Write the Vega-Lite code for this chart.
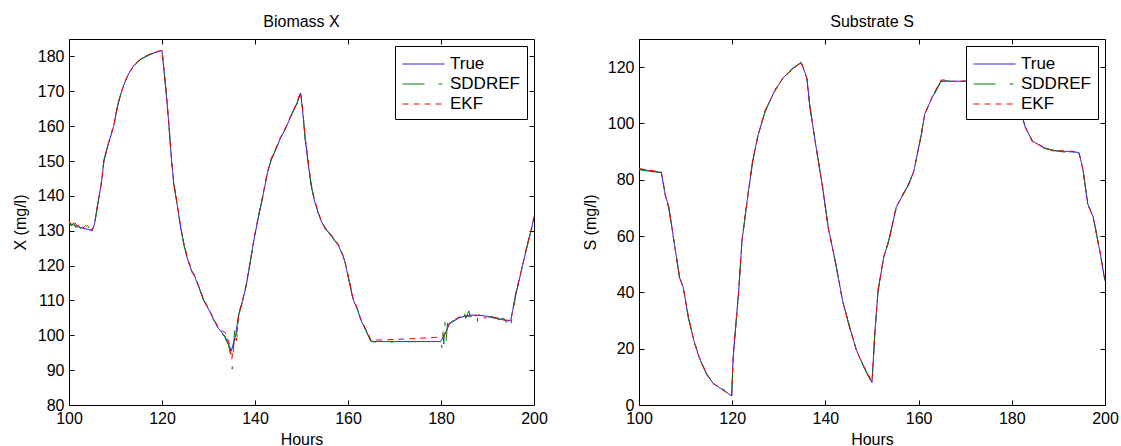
{
  "$schema": "https://vega.github.io/schema/vega-lite/v6.json",
  "padding": {"left": 12, "top": 13, "right": 5, "bottom": 0},
  "config": {
    "font": "Liberation Sans",
    "view": {"stroke": null},
    "axis": {"grid": false, "domainColor": "#000", "domainWidth": 1, "tickColor": "#000", "tickSize": -5, "labelFontSize": 16, "labelColor": "#000", "titleFontSize": 16, "titleFontWeight": "normal", "titleColor": "#000", "labelFont": "Liberation Sans", "titleFont": "Liberation Sans", "labelPadding": 10, "labelFlush": false, "labelOverlap": false},
    "title": {"fontSize": 16, "fontWeight": "normal", "font": "Liberation Sans", "color": "#000", "offset": 9, "frame": "group", "anchor": "middle"},
    "legend": {"orient": "top-right", "offset": 7, "strokeColor": "#000", "fillColor": "#fff", "padding": 7, "symbolType": "M-1,0H3", "symbolSize": 441, "symbolStrokeWidth": 1, "symbolFillColor": "transparent", "labelOffset": 26, "rowPadding": 1, "labelFontSize": 17, "labelColor": "#000", "labelFont": "Liberation Sans", "title": null, "cornerRadius": 0},
    "concat": {"spacing": 34},
    "line": {"strokeWidth": 1}
  },
  "resolve": {"scale": {"color": "independent", "strokeDash": "independent"}, "legend": {"color": "independent", "strokeDash": "independent"}},
  "datasets": {
    "biomass": [
      {"t":100,"v":132.2,"s":"True"},{"t":101,"v":131.6,"s":"True"},{"t":102,"v":131.1,"s":"True"},{"t":103,"v":130.7,"s":"True"},{"t":104,"v":130.4,"s":"True"},{"t":105,"v":130.0,"s":"True"},{"t":105.5,"v":132,"s":"True"},{"t":106,"v":136.2,"s":"True"},{"t":107,"v":144,"s":"True"},{"t":107.5,"v":150,"s":"True"},{"t":108.5,"v":155,"s":"True"},{"t":109.6,"v":160,"s":"True"},{"t":110.5,"v":166,"s":"True"},{"t":111.3,"v":170,"s":"True"},{"t":112,"v":172.5,"s":"True"},{"t":112.8,"v":175,"s":"True"},{"t":114,"v":177.5,"s":"True"},{"t":115.5,"v":179.3,"s":"True"},{"t":117.4,"v":180.6,"s":"True"},{"t":119,"v":181.3,"s":"True"},{"t":120,"v":181.7,"s":"True"},{"t":120.9,"v":169.7,"s":"True"},{"t":121.5,"v":160,"s":"True"},{"t":122,"v":151,"s":"True"},{"t":122.5,"v":143.8,"s":"True"},{"t":123.3,"v":137.1,"s":"True"},{"t":124,"v":131,"s":"True"},{"t":124.7,"v":126,"s":"True"},{"t":125.5,"v":121.8,"s":"True"},{"t":126.5,"v":118,"s":"True"},{"t":127,"v":117,"s":"True"},{"t":128,"v":113.5,"s":"True"},{"t":128.9,"v":110.3,"s":"True"},{"t":130,"v":107.5,"s":"True"},{"t":131,"v":104.8,"s":"True"},{"t":132,"v":102.2,"s":"True"},{"t":133.5,"v":99.8,"s":"True"},{"t":134.3,"v":97.5,"s":"True"},{"t":134.9,"v":95.5,"s":"True"},{"t":135.8,"v":99.8,"s":"True"},{"t":136.5,"v":106,"s":"True"},{"t":137.2,"v":109,"s":"True"},{"t":138.1,"v":114.2,"s":"True"},{"t":139,"v":121,"s":"True"},{"t":139.8,"v":127.6,"s":"True"},{"t":140.8,"v":134.3,"s":"True"},{"t":141.7,"v":140,"s":"True"},{"t":142.7,"v":146.7,"s":"True"},{"t":143.5,"v":150.5,"s":"True"},{"t":144.2,"v":152.4,"s":"True"},{"t":145.3,"v":156,"s":"True"},{"t":146.5,"v":159.1,"s":"True"},{"t":147.3,"v":161.5,"s":"True"},{"t":148.1,"v":163.9,"s":"True"},{"t":149,"v":166.5,"s":"True"},{"t":149.8,"v":169.5,"s":"True"},{"t":150.2,"v":165,"s":"True"},{"t":150.8,"v":156.3,"s":"True"},{"t":151.5,"v":148.6,"s":"True"},{"t":152.1,"v":143,"s":"True"},{"t":152.7,"v":139,"s":"True"},{"t":153.5,"v":135.5,"s":"True"},{"t":154.2,"v":132.8,"s":"True"},{"t":155,"v":130.8,"s":"True"},{"t":155.8,"v":129.5,"s":"True"},{"t":157,"v":127.5,"s":"True"},{"t":158,"v":125.6,"s":"True"},{"t":159.2,"v":121.8,"s":"True"},{"t":160,"v":117,"s":"True"},{"t":161.1,"v":110.3,"s":"True"},{"t":162,"v":107.5,"s":"True"},{"t":162.7,"v":104.6,"s":"True"},{"t":163.8,"v":101.5,"s":"True"},{"t":164.9,"v":98.4,"s":"True"},{"t":165.5,"v":98.2,"s":"True"},{"t":170,"v":98.2,"s":"True"},{"t":175,"v":98.2,"s":"True"},{"t":179.9,"v":98.2,"s":"True"},{"t":180.8,"v":100.2,"s":"True"},{"t":181.8,"v":103.2,"s":"True"},{"t":183,"v":104.3,"s":"True"},{"t":184.1,"v":105.1,"s":"True"},{"t":185.3,"v":105.5,"s":"True"},{"t":186.4,"v":105.8,"s":"True"},{"t":188.7,"v":105.7,"s":"True"},{"t":190,"v":105.4,"s":"True"},{"t":191,"v":105.1,"s":"True"},{"t":192.5,"v":104.7,"s":"True"},{"t":194.5,"v":104.1,"s":"True"},{"t":195,"v":104.2,"s":"True"},{"t":196,"v":111.3,"s":"True"},{"t":197.2,"v":118,"s":"True"},{"t":198.7,"v":126.6,"s":"True"},{"t":199.3,"v":129.5,"s":"True"},{"t":200,"v":133.8,"s":"True"},

      {"t":100,"v":132.6,"s":"SDDREF"},{"t":100.5,"v":131.4,"s":"SDDREF"},{"t":101,"v":132.3,"s":"SDDREF"},{"t":101.5,"v":130.9,"s":"SDDREF"},{"t":102,"v":131.6,"s":"SDDREF"},{"t":102.5,"v":130.6,"s":"SDDREF"},{"t":103,"v":131.8,"s":"SDDREF"},{"t":103.5,"v":130.3,"s":"SDDREF"},{"t":104,"v":131.5,"s":"SDDREF"},{"t":104.5,"v":130.4,"s":"SDDREF"},{"t":105,"v":130.1,"s":"SDDREF"},{"t":105.5,"v":132,"s":"SDDREF"},{"t":106,"v":136,"s":"SDDREF"},{"t":107,"v":144.2,"s":"SDDREF"},{"t":107.5,"v":150.3,"s":"SDDREF"},{"t":108.5,"v":155.2,"s":"SDDREF"},{"t":109.6,"v":160.3,"s":"SDDREF"},{"t":110.5,"v":166.2,"s":"SDDREF"},{"t":111.3,"v":170.1,"s":"SDDREF"},{"t":112,"v":172.6,"s":"SDDREF"},{"t":112.8,"v":175.1,"s":"SDDREF"},{"t":114,"v":177.4,"s":"SDDREF"},{"t":115.5,"v":179.2,"s":"SDDREF"},{"t":117.4,"v":180.5,"s":"SDDREF"},{"t":119,"v":181.2,"s":"SDDREF"},{"t":120,"v":181.6,"s":"SDDREF"},{"t":120.9,"v":169.5,"s":"SDDREF"},{"t":121.5,"v":159.8,"s":"SDDREF"},{"t":122,"v":150.8,"s":"SDDREF"},{"t":122.5,"v":143.6,"s":"SDDREF"},{"t":123.3,"v":137.3,"s":"SDDREF"},{"t":124,"v":131.2,"s":"SDDREF"},{"t":124.7,"v":126.2,"s":"SDDREF"},{"t":125.5,"v":121.6,"s":"SDDREF"},{"t":126.5,"v":118.2,"s":"SDDREF"},{"t":127,"v":116.8,"s":"SDDREF"},{"t":128,"v":113.7,"s":"SDDREF"},{"t":128.9,"v":110.1,"s":"SDDREF"},{"t":130,"v":107.6,"s":"SDDREF"},{"t":131,"v":104.6,"s":"SDDREF"},{"t":132,"v":102.4,"s":"SDDREF"},{"t":133.5,"v":99.5,"s":"SDDREF"},{"t":134.3,"v":97.2,"s":"SDDREF"},{"t":134.8,"v":94,"s":"SDDREF"},{"t":135.1,"v":90.3,"s":"SDDREF"},{"t":135.4,"v":97,"s":"SDDREF"},{"t":135.7,"v":103,"s":"SDDREF"},{"t":135.9,"v":101.5,"s":"SDDREF"},{"t":136.2,"v":99.5,"s":"SDDREF"},{"t":136.5,"v":105.8,"s":"SDDREF"},{"t":137.2,"v":109.3,"s":"SDDREF"},{"t":138.1,"v":114,"s":"SDDREF"},{"t":139,"v":121.3,"s":"SDDREF"},{"t":139.8,"v":127.4,"s":"SDDREF"},{"t":140.8,"v":134.5,"s":"SDDREF"},{"t":141.7,"v":139.8,"s":"SDDREF"},{"t":142.7,"v":146.9,"s":"SDDREF"},{"t":143.5,"v":150.3,"s":"SDDREF"},{"t":144.2,"v":152.6,"s":"SDDREF"},{"t":145.3,"v":155.8,"s":"SDDREF"},{"t":146.5,"v":159.3,"s":"SDDREF"},{"t":147.3,"v":161.3,"s":"SDDREF"},{"t":148.1,"v":164.1,"s":"SDDREF"},{"t":149,"v":166.3,"s":"SDDREF"},{"t":149.8,"v":169.6,"s":"SDDREF"},{"t":150.2,"v":165.3,"s":"SDDREF"},{"t":150.8,"v":156.1,"s":"SDDREF"},{"t":151.5,"v":148.8,"s":"SDDREF"},{"t":152.1,"v":142.8,"s":"SDDREF"},{"t":152.7,"v":139.2,"s":"SDDREF"},{"t":153.5,"v":135.3,"s":"SDDREF"},{"t":154.2,"v":133,"s":"SDDREF"},{"t":155,"v":130.6,"s":"SDDREF"},{"t":155.8,"v":129.7,"s":"SDDREF"},{"t":157,"v":127.3,"s":"SDDREF"},{"t":158,"v":125.8,"s":"SDDREF"},{"t":159.2,"v":121.6,"s":"SDDREF"},{"t":160,"v":117.2,"s":"SDDREF"},{"t":161.1,"v":110.1,"s":"SDDREF"},{"t":162,"v":107.7,"s":"SDDREF"},{"t":162.7,"v":104.4,"s":"SDDREF"},{"t":163.8,"v":101.7,"s":"SDDREF"},{"t":164.9,"v":98.3,"s":"SDDREF"},{"t":165.5,"v":98.1,"s":"SDDREF"},{"t":170,"v":98.1,"s":"SDDREF"},{"t":175,"v":98.2,"s":"SDDREF"},{"t":179.9,"v":98.2,"s":"SDDREF"},{"t":180.2,"v":96.5,"s":"SDDREF"},{"t":180.4,"v":101,"s":"SDDREF"},{"t":180.6,"v":97.5,"s":"SDDREF"},{"t":180.8,"v":104,"s":"SDDREF"},{"t":181.1,"v":98.5,"s":"SDDREF"},{"t":181.4,"v":103.5,"s":"SDDREF"},{"t":181.8,"v":101,"s":"SDDREF"},{"t":182.3,"v":104,"s":"SDDREF"},{"t":183,"v":104.5,"s":"SDDREF"},{"t":184.1,"v":105.4,"s":"SDDREF"},{"t":185,"v":106.5,"s":"SDDREF"},{"t":185.3,"v":104.8,"s":"SDDREF"},{"t":186,"v":107,"s":"SDDREF"},{"t":186.3,"v":105.2,"s":"SDDREF"},{"t":187,"v":105.9,"s":"SDDREF"},{"t":187.7,"v":103.2,"s":"SDDREF"},{"t":188,"v":105.8,"s":"SDDREF"},{"t":188.7,"v":106.1,"s":"SDDREF"},{"t":190,"v":105.2,"s":"SDDREF"},{"t":191,"v":105.4,"s":"SDDREF"},{"t":192.5,"v":104.5,"s":"SDDREF"},{"t":193.5,"v":104.9,"s":"SDDREF"},{"t":194.3,"v":103.2,"s":"SDDREF"},{"t":194.7,"v":104.6,"s":"SDDREF"},{"t":195,"v":103,"s":"SDDREF"},{"t":195.5,"v":106,"s":"SDDREF"},{"t":196,"v":111,"s":"SDDREF"},{"t":197.2,"v":118.3,"s":"SDDREF"},{"t":198.7,"v":126.4,"s":"SDDREF"},{"t":199.3,"v":129.8,"s":"SDDREF"},{"t":200,"v":134,"s":"SDDREF"},

      {"t":100,"v":132.8,"s":"EKF"},{"t":100.6,"v":131.5,"s":"EKF"},{"t":101.2,"v":132.5,"s":"EKF"},{"t":101.8,"v":131.2,"s":"EKF"},{"t":102.4,"v":131.8,"s":"EKF"},{"t":103,"v":130.8,"s":"EKF"},{"t":103.6,"v":131.5,"s":"EKF"},{"t":104.2,"v":130.6,"s":"EKF"},{"t":105,"v":130.3,"s":"EKF"},{"t":105.5,"v":131.8,"s":"EKF"},{"t":106,"v":136.4,"s":"EKF"},{"t":107,"v":143.8,"s":"EKF"},{"t":107.5,"v":149.8,"s":"EKF"},{"t":108.5,"v":155.3,"s":"EKF"},{"t":109.6,"v":159.8,"s":"EKF"},{"t":110.5,"v":166.3,"s":"EKF"},{"t":111.3,"v":169.8,"s":"EKF"},{"t":112,"v":172.7,"s":"EKF"},{"t":112.8,"v":174.9,"s":"EKF"},{"t":114,"v":177.6,"s":"EKF"},{"t":115.5,"v":179.4,"s":"EKF"},{"t":117.4,"v":180.7,"s":"EKF"},{"t":119,"v":181.4,"s":"EKF"},{"t":120,"v":181.8,"s":"EKF"},{"t":120.9,"v":170.2,"s":"EKF"},{"t":121.5,"v":160.5,"s":"EKF"},{"t":122,"v":151.5,"s":"EKF"},{"t":122.5,"v":144.3,"s":"EKF"},{"t":123.3,"v":137.5,"s":"EKF"},{"t":124,"v":131.4,"s":"EKF"},{"t":124.7,"v":126.3,"s":"EKF"},{"t":125.5,"v":122.1,"s":"EKF"},{"t":126.5,"v":118.3,"s":"EKF"},{"t":127,"v":117.3,"s":"EKF"},{"t":128,"v":113.8,"s":"EKF"},{"t":128.9,"v":110.6,"s":"EKF"},{"t":130,"v":107.8,"s":"EKF"},{"t":131,"v":105.1,"s":"EKF"},{"t":132,"v":102.6,"s":"EKF"},{"t":133,"v":101.2,"s":"EKF"},{"t":133.6,"v":100.8,"s":"EKF"},{"t":134.2,"v":98.5,"s":"EKF"},{"t":134.6,"v":97.3,"s":"EKF"},{"t":135,"v":93,"s":"EKF"},{"t":135.3,"v":96,"s":"EKF"},{"t":135.6,"v":99.2,"s":"EKF"},{"t":136,"v":98.4,"s":"EKF"},{"t":136.5,"v":106.3,"s":"EKF"},{"t":137.2,"v":109.4,"s":"EKF"},{"t":138.1,"v":114.5,"s":"EKF"},{"t":139,"v":121.4,"s":"EKF"},{"t":139.8,"v":127.9,"s":"EKF"},{"t":140.8,"v":134.6,"s":"EKF"},{"t":141.7,"v":140.3,"s":"EKF"},{"t":142.7,"v":147,"s":"EKF"},{"t":143.5,"v":150.8,"s":"EKF"},{"t":144.2,"v":152.7,"s":"EKF"},{"t":145.3,"v":156.3,"s":"EKF"},{"t":146.5,"v":159.4,"s":"EKF"},{"t":147.3,"v":161.8,"s":"EKF"},{"t":148.1,"v":164.2,"s":"EKF"},{"t":149,"v":166.8,"s":"EKF"},{"t":149.8,"v":169.8,"s":"EKF"},{"t":150.2,"v":165.5,"s":"EKF"},{"t":150.8,"v":156.8,"s":"EKF"},{"t":151.5,"v":149.1,"s":"EKF"},{"t":152.1,"v":143.4,"s":"EKF"},{"t":152.7,"v":139.4,"s":"EKF"},{"t":153.5,"v":135.8,"s":"EKF"},{"t":154.2,"v":133.1,"s":"EKF"},{"t":155,"v":131.1,"s":"EKF"},{"t":155.8,"v":129.8,"s":"EKF"},{"t":157,"v":127.8,"s":"EKF"},{"t":158,"v":125.9,"s":"EKF"},{"t":159.2,"v":122.1,"s":"EKF"},{"t":160,"v":117.4,"s":"EKF"},{"t":161.1,"v":110.7,"s":"EKF"},{"t":162,"v":107.8,"s":"EKF"},{"t":162.7,"v":104.9,"s":"EKF"},{"t":163.8,"v":101.8,"s":"EKF"},{"t":164.9,"v":98.8,"s":"EKF"},{"t":165.5,"v":98.6,"s":"EKF"},{"t":170,"v":98.8,"s":"EKF"},{"t":175,"v":99.1,"s":"EKF"},{"t":180,"v":99.5,"s":"EKF"},{"t":180.5,"v":100,"s":"EKF"},{"t":181,"v":101,"s":"EKF"},{"t":181.8,"v":103.5,"s":"EKF"},{"t":182.5,"v":104,"s":"EKF"},{"t":183,"v":104.6,"s":"EKF"},{"t":184.1,"v":105.4,"s":"EKF"},{"t":185.3,"v":105.7,"s":"EKF"},{"t":186,"v":105.3,"s":"EKF"},{"t":186.4,"v":106.1,"s":"EKF"},{"t":187.5,"v":105.6,"s":"EKF"},{"t":188.7,"v":106,"s":"EKF"},{"t":189.5,"v":104.8,"s":"EKF"},{"t":190,"v":105.5,"s":"EKF"},{"t":191,"v":105,"s":"EKF"},{"t":192.5,"v":105,"s":"EKF"},{"t":193.5,"v":104.4,"s":"EKF"},{"t":194.5,"v":104.3,"s":"EKF"},{"t":195,"v":104,"s":"EKF"},{"t":196,"v":111.6,"s":"EKF"},{"t":197.2,"v":118.3,"s":"EKF"},{"t":198.7,"v":126.9,"s":"EKF"},{"t":199.3,"v":129.8,"s":"EKF"},{"t":200,"v":134.1,"s":"EKF"}
    ],
    "substrate": [
      {"t":100,"v":83.8,"s":"True"},{"t":102,"v":83.3,"s":"True"},{"t":104.8,"v":82.6,"s":"True"},{"t":105.6,"v":74.9,"s":"True"},{"t":106.4,"v":70.2,"s":"True"},{"t":107.5,"v":58.3,"s":"True"},{"t":108.7,"v":45.3,"s":"True"},{"t":109.5,"v":41.8,"s":"True"},{"t":110.6,"v":31.1,"s":"True"},{"t":111.8,"v":22.8,"s":"True"},{"t":112.9,"v":16.9,"s":"True"},{"t":114.5,"v":11,"s":"True"},{"t":116,"v":7.5,"s":"True"},{"t":118.3,"v":5.1,"s":"True"},{"t":119.9,"v":3.2,"s":"True"},{"t":120.2,"v":16.9,"s":"True"},{"t":121.4,"v":40.6,"s":"True"},{"t":122.1,"v":58.3,"s":"True"},{"t":123.3,"v":73.7,"s":"True"},{"t":124.4,"v":86.7,"s":"True"},{"t":125.6,"v":96.2,"s":"True"},{"t":127.1,"v":104.5,"s":"True"},{"t":129.1,"v":111.6,"s":"True"},{"t":131,"v":116.3,"s":"True"},{"t":132.9,"v":119.3,"s":"True"},{"t":134.8,"v":121.7,"s":"True"},{"t":136,"v":116.3,"s":"True"},{"t":136.7,"v":105.7,"s":"True"},{"t":137.9,"v":92.7,"s":"True"},{"t":139.4,"v":77.3,"s":"True"},{"t":140.6,"v":63.1,"s":"True"},{"t":142.1,"v":51.2,"s":"True"},{"t":143.7,"v":37,"s":"True"},{"t":145.2,"v":27.6,"s":"True"},{"t":146.7,"v":19.3,"s":"True"},{"t":148.3,"v":13.4,"s":"True"},{"t":150,"v":8,"s":"True"},{"t":150.6,"v":25.2,"s":"True"},{"t":151.3,"v":40.6,"s":"True"},{"t":152.5,"v":52.4,"s":"True"},{"t":153.6,"v":58.3,"s":"True"},{"t":155.2,"v":70.2,"s":"True"},{"t":156.7,"v":74.9,"s":"True"},{"t":157.9,"v":78.5,"s":"True"},{"t":159,"v":83.2,"s":"True"},{"t":160.6,"v":96.2,"s":"True"},{"t":161.3,"v":103.3,"s":"True"},{"t":162.9,"v":109.2,"s":"True"},{"t":164.8,"v":115.1,"s":"True"},{"t":166,"v":115,"s":"True"},{"t":170,"v":115,"s":"True"},{"t":175,"v":115,"s":"True"},{"t":180,"v":115,"s":"True"},{"t":181,"v":110,"s":"True"},{"t":182.1,"v":103.3,"s":"True"},{"t":182.9,"v":98.6,"s":"True"},{"t":184.4,"v":93.8,"s":"True"},{"t":186.7,"v":91.5,"s":"True"},{"t":189,"v":90.3,"s":"True"},{"t":191.3,"v":90.1,"s":"True"},{"t":194.4,"v":89.7,"s":"True"},{"t":195.2,"v":84.4,"s":"True"},{"t":196.3,"v":71.4,"s":"True"},{"t":197.5,"v":66.6,"s":"True"},{"t":199,"v":53.6,"s":"True"},{"t":200,"v":44.1,"s":"True"},

      {"t":100,"v":83.6,"s":"SDDREF"},{"t":102,"v":83.1,"s":"SDDREF"},{"t":104.8,"v":82.5,"s":"SDDREF"},{"t":105.6,"v":75.3,"s":"SDDREF"},{"t":106.4,"v":69.8,"s":"SDDREF"},{"t":107.5,"v":58.6,"s":"SDDREF"},{"t":108.7,"v":45,"s":"SDDREF"},{"t":109.5,"v":42.1,"s":"SDDREF"},{"t":110.6,"v":30.8,"s":"SDDREF"},{"t":111.8,"v":23.1,"s":"SDDREF"},{"t":112.9,"v":16.6,"s":"SDDREF"},{"t":114.5,"v":11.2,"s":"SDDREF"},{"t":116,"v":7.3,"s":"SDDREF"},{"t":118.3,"v":5.3,"s":"SDDREF"},{"t":119.9,"v":3.1,"s":"SDDREF"},{"t":120.2,"v":16.5,"s":"SDDREF"},{"t":121.4,"v":41,"s":"SDDREF"},{"t":122.1,"v":58,"s":"SDDREF"},{"t":123.3,"v":74,"s":"SDDREF"},{"t":124.4,"v":86.4,"s":"SDDREF"},{"t":125.6,"v":96.5,"s":"SDDREF"},{"t":127.1,"v":104.2,"s":"SDDREF"},{"t":129.1,"v":111.9,"s":"SDDREF"},{"t":131,"v":116,"s":"SDDREF"},{"t":132.9,"v":119.6,"s":"SDDREF"},{"t":134.8,"v":121.5,"s":"SDDREF"},{"t":136,"v":116.6,"s":"SDDREF"},{"t":136.7,"v":105.4,"s":"SDDREF"},{"t":137.9,"v":93,"s":"SDDREF"},{"t":139.4,"v":77,"s":"SDDREF"},{"t":140.6,"v":63.4,"s":"SDDREF"},{"t":142.1,"v":50.9,"s":"SDDREF"},{"t":143.7,"v":37.3,"s":"SDDREF"},{"t":145.2,"v":27.3,"s":"SDDREF"},{"t":146.7,"v":19.6,"s":"SDDREF"},{"t":148.3,"v":13.2,"s":"SDDREF"},{"t":150,"v":7.7,"s":"SDDREF"},{"t":150.6,"v":25,"s":"SDDREF"},{"t":151.3,"v":40.9,"s":"SDDREF"},{"t":152.5,"v":52.1,"s":"SDDREF"},{"t":153.6,"v":58.6,"s":"SDDREF"},{"t":155.2,"v":69.9,"s":"SDDREF"},{"t":156.7,"v":75.2,"s":"SDDREF"},{"t":157.9,"v":78.2,"s":"SDDREF"},{"t":159,"v":83.5,"s":"SDDREF"},{"t":160.6,"v":95.9,"s":"SDDREF"},{"t":161.3,"v":103.6,"s":"SDDREF"},{"t":162.9,"v":108.9,"s":"SDDREF"},{"t":164.8,"v":114.8,"s":"SDDREF"},{"t":166,"v":115.2,"s":"SDDREF"},{"t":170,"v":114.9,"s":"SDDREF"},{"t":175,"v":115,"s":"SDDREF"},{"t":180,"v":115.1,"s":"SDDREF"},{"t":181,"v":109.7,"s":"SDDREF"},{"t":182.1,"v":103.6,"s":"SDDREF"},{"t":182.9,"v":98.3,"s":"SDDREF"},{"t":184.4,"v":94.1,"s":"SDDREF"},{"t":186.7,"v":91.2,"s":"SDDREF"},{"t":189,"v":90.5,"s":"SDDREF"},{"t":191.3,"v":89.8,"s":"SDDREF"},{"t":194.4,"v":89.4,"s":"SDDREF"},{"t":195.2,"v":84.8,"s":"SDDREF"},{"t":196.3,"v":71,"s":"SDDREF"},{"t":197.5,"v":66.9,"s":"SDDREF"},{"t":199,"v":53.3,"s":"SDDREF"},{"t":200,"v":44.4,"s":"SDDREF"},

      {"t":100,"v":84,"s":"EKF"},{"t":102,"v":83.4,"s":"EKF"},{"t":104.8,"v":82.8,"s":"EKF"},{"t":105.6,"v":74.6,"s":"EKF"},{"t":106.4,"v":70.5,"s":"EKF"},{"t":107.5,"v":58,"s":"EKF"},{"t":108.7,"v":45.6,"s":"EKF"},{"t":109.5,"v":41.5,"s":"EKF"},{"t":110.6,"v":31.4,"s":"EKF"},{"t":111.8,"v":22.5,"s":"EKF"},{"t":112.9,"v":17.2,"s":"EKF"},{"t":114.5,"v":10.8,"s":"EKF"},{"t":116,"v":7.7,"s":"EKF"},{"t":118.3,"v":4.9,"s":"EKF"},{"t":119.9,"v":3.4,"s":"EKF"},{"t":120.2,"v":17.2,"s":"EKF"},{"t":121.4,"v":40.3,"s":"EKF"},{"t":122.1,"v":58.6,"s":"EKF"},{"t":123.3,"v":73.4,"s":"EKF"},{"t":124.4,"v":87,"s":"EKF"},{"t":125.6,"v":95.9,"s":"EKF"},{"t":127.1,"v":104.8,"s":"EKF"},{"t":129.1,"v":111.3,"s":"EKF"},{"t":131,"v":116.6,"s":"EKF"},{"t":132.9,"v":119,"s":"EKF"},{"t":134.8,"v":122,"s":"EKF"},{"t":136,"v":116,"s":"EKF"},{"t":136.7,"v":106,"s":"EKF"},{"t":137.9,"v":92.4,"s":"EKF"},{"t":139.4,"v":77.6,"s":"EKF"},{"t":140.6,"v":62.8,"s":"EKF"},{"t":142.1,"v":51.5,"s":"EKF"},{"t":143.7,"v":36.7,"s":"EKF"},{"t":145.2,"v":27.9,"s":"EKF"},{"t":146.7,"v":19,"s":"EKF"},{"t":148.3,"v":13.6,"s":"EKF"},{"t":150,"v":8.3,"s":"EKF"},{"t":150.6,"v":25.5,"s":"EKF"},{"t":151.3,"v":40.3,"s":"EKF"},{"t":152.5,"v":52.7,"s":"EKF"},{"t":153.6,"v":58,"s":"EKF"},{"t":155.2,"v":70.5,"s":"EKF"},{"t":156.7,"v":74.6,"s":"EKF"},{"t":157.9,"v":78.8,"s":"EKF"},{"t":159,"v":82.9,"s":"EKF"},{"t":160.6,"v":96.5,"s":"EKF"},{"t":161.3,"v":103,"s":"EKF"},{"t":162.9,"v":109.5,"s":"EKF"},{"t":164.8,"v":115.4,"s":"EKF"},{"t":165.5,"v":115.5,"s":"EKF"},{"t":166,"v":114.9,"s":"EKF"},{"t":170,"v":115.1,"s":"EKF"},{"t":175,"v":115,"s":"EKF"},{"t":180,"v":114.9,"s":"EKF"},{"t":181,"v":110.3,"s":"EKF"},{"t":182.1,"v":103,"s":"EKF"},{"t":182.9,"v":98.9,"s":"EKF"},{"t":184.4,"v":93.5,"s":"EKF"},{"t":186.7,"v":91.8,"s":"EKF"},{"t":189,"v":90.1,"s":"EKF"},{"t":191.3,"v":90.3,"s":"EKF"},{"t":194.4,"v":89.9,"s":"EKF"},{"t":195.2,"v":84,"s":"EKF"},{"t":196.3,"v":71.7,"s":"EKF"},{"t":197.5,"v":66.3,"s":"EKF"},{"t":199,"v":53.9,"s":"EKF"},{"t":200,"v":43.8,"s":"EKF"}
    ]
  },
  "hconcat": [
    {
      "title": "Biomass X",
      "width": 465,
      "height": 366,
      "data": {"name": "biomass"},
      "layer": [
        {
          "transform": [{"filter": "datum.s === 'True'"}],
          "mark": {"type": "line"},
          "encoding": {
            "x": {"field": "t", "type": "quantitative", "scale": {"domain": [100, 200], "nice": false}, "axis": {"orient": "bottom", "values": [100, 120, 140, 160, 180, 200], "title": "Hours", "titlePadding": 5}},
            "y": {"field": "v", "type": "quantitative", "scale": {"domain": [80, 185], "nice": false, "zero": false}, "axis": {"orient": "left", "values": [80, 90, 100, 110, 120, 130, 140, 150, 160, 170, 180], "title": "X (mg/l)", "titlePadding": 9}},
            "color": {"field": "s", "type": "nominal", "scale": {"domain": ["True", "SDDREF", "EKF"], "range": ["#0000ff", "#008000", "#ff0000"]}},
            "strokeDash": {"field": "s", "type": "nominal", "scale": {"domain": ["True", "SDDREF", "EKF"], "range": [[1, 0], [22, 14, 4, 14], [6, 5]]}},
            "order": {"field": "t", "type": "quantitative"}
          }
        },
        {
          "transform": [{"filter": "datum.s === 'SDDREF'"}],
          "mark": {"type": "line"},
          "encoding": {
            "x": {"field": "t", "type": "quantitative", "axis": {"orient": "top", "values": [100, 120, 140, 160, 180, 200], "labels": false, "title": null}},
            "y": {"field": "v", "type": "quantitative", "axis": {"orient": "right", "values": [80, 90, 100, 110, 120, 130, 140, 150, 160, 170, 180], "labels": false, "title": null}},
            "color": {"field": "s", "type": "nominal"},
            "strokeDash": {"field": "s", "type": "nominal"},
            "order": {"field": "t", "type": "quantitative"}
          }
        },
        {
          "transform": [{"filter": "datum.s === 'EKF'"}],
          "mark": {"type": "line"},
          "encoding": {
            "x": {"field": "t", "type": "quantitative", "axis": null},
            "y": {"field": "v", "type": "quantitative", "axis": null},
            "color": {"field": "s", "type": "nominal"},
            "strokeDash": {"field": "s", "type": "nominal"},
            "order": {"field": "t", "type": "quantitative"}
          }
        }
      ],
      "resolve": {"axis": {"x": "independent", "y": "independent"}}
    },
    {
      "title": "Substrate S",
      "width": 466,
      "height": 366,
      "data": {"name": "substrate"},
      "layer": [
        {
          "transform": [{"filter": "datum.s === 'True'"}],
          "mark": {"type": "line"},
          "encoding": {
            "x": {"field": "t", "type": "quantitative", "scale": {"domain": [100, 200], "nice": false}, "axis": {"orient": "bottom", "values": [100, 120, 140, 160, 180, 200], "title": "Hours", "titlePadding": 5}},
            "y": {"field": "v", "type": "quantitative", "scale": {"domain": [0, 130], "nice": false}, "axis": {"orient": "left", "values": [0, 20, 40, 60, 80, 100, 120], "title": "S (mg/l)", "titlePadding": 9}},
            "color": {"field": "s", "type": "nominal", "scale": {"domain": ["True", "SDDREF", "EKF"], "range": ["#0000ff", "#008000", "#ff0000"]}},
            "strokeDash": {"field": "s", "type": "nominal", "scale": {"domain": ["True", "SDDREF", "EKF"], "range": [[1, 0], [22, 14, 4, 14], [6, 5]]}},
            "order": {"field": "t", "type": "quantitative"}
          }
        },
        {
          "transform": [{"filter": "datum.s === 'SDDREF'"}],
          "mark": {"type": "line"},
          "encoding": {
            "x": {"field": "t", "type": "quantitative", "axis": {"orient": "top", "values": [100, 120, 140, 160, 180, 200], "labels": false, "title": null}},
            "y": {"field": "v", "type": "quantitative", "axis": {"orient": "right", "values": [0, 20, 40, 60, 80, 100, 120], "labels": false, "title": null}},
            "color": {"field": "s", "type": "nominal"},
            "strokeDash": {"field": "s", "type": "nominal"},
            "order": {"field": "t", "type": "quantitative"}
          }
        },
        {
          "transform": [{"filter": "datum.s === 'EKF'"}],
          "mark": {"type": "line"},
          "encoding": {
            "x": {"field": "t", "type": "quantitative", "axis": null},
            "y": {"field": "v", "type": "quantitative", "axis": null},
            "color": {"field": "s", "type": "nominal"},
            "strokeDash": {"field": "s", "type": "nominal"},
            "order": {"field": "t", "type": "quantitative"}
          }
        }
      ],
      "resolve": {"axis": {"x": "independent", "y": "independent"}}
    }
  ]
}
